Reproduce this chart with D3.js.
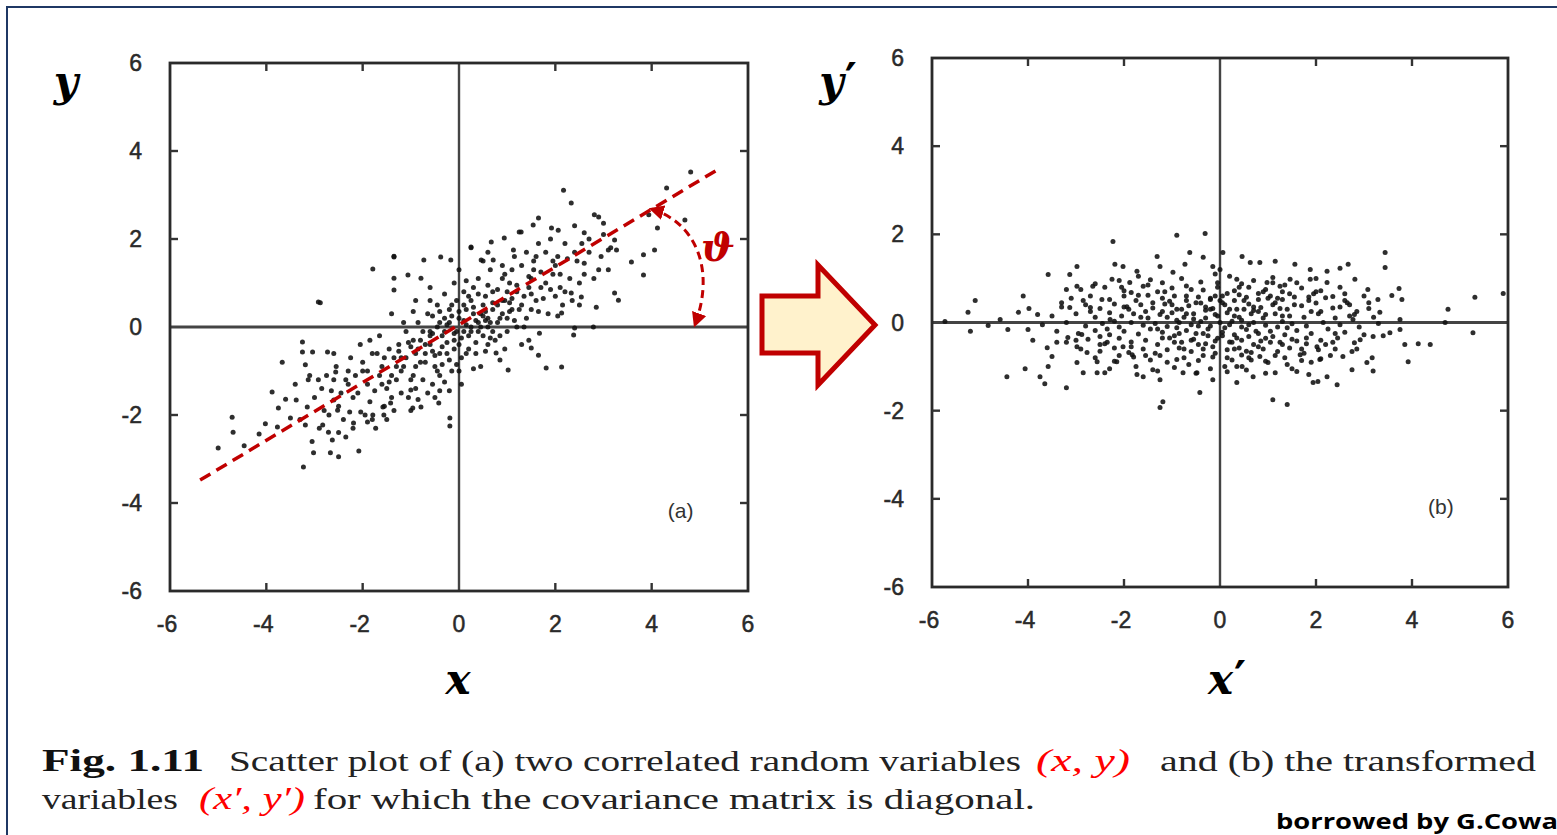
<!DOCTYPE html>
<html lang="en">
<head>
  <meta charset="UTF-8" />
  <title>Fig. 1.11 scatter</title>
  <script src="https://d3js.org/d3.v7.min.js"></script>
  <style>
    body { margin: 0; background: #fff; }
    svg { display: block; }
    .tick-label { font-family: "Liberation Sans", Arial, sans-serif; font-size: 23px; fill: #2a2a2a; stroke: #2a2a2a; stroke-width: 0.5px; }
    .axis-name { font-family: "DejaVu Serif", "Liberation Serif", serif; font-weight: bold; font-style: italic; font-size: 42px; fill: #000; }
    .caption { font-family: "Liberation Serif", serif; font-size: 29px; fill: #222; }
  </style>
</head>
<body>
<svg id="chart" width="1557" height="835"></svg>

<script>
const ticks = [-6, -4, -2, 0, 2, 4, 6];

// (a) correlated variables (x, y)
const pointsA = [
  [-5.0,-2.75],[-4.71,-2.05],[-4.69,-2.39],[-4.46,-2.7],[-4.15,-2.43],[-4.02,-2.2],[-3.88,-1.48],[-3.77,-2.27],
  [-3.75,-1.84],[-3.6,-1.64],[-3.67,-0.8],[-3.5,-2.07],[-3.38,-1.66],[-3.23,-3.18],[-3.25,-0.34],[-3.25,-0.57],
  [-3.19,-0.86],[-3.13,-1.2],[-3.15,-1.82],[-3.19,-2.23],[-3.04,-0.57],[-3.02,-2.86],[-2.92,-1.2],[-2.83,-2.23],
  [-2.73,-0.57],[-2.71,-2.39],[-2.67,-2.86],[-2.63,-2.57],[-2.5,-2.95],[-2.52,-1.89],[-2.6,-1.66],[-2.56,-1.02],
  [-2.35,-1.2],[-2.27,-1.93],[-2.19,-2.18],[-2.08,-2.82],[-2.04,-1.93],[-1.9,-2.16],[-1.79,-2.0],[-1.73,-2.3],
  [-1.58,-1.82],[-1.56,-2.0],[-1.42,-1.73],[-2.92,0.57],[-1.0,-1.43],[-0.96,-1.84],[-0.79,-1.82],[-0.42,-1.73],
  [-0.19,-2.07],[-0.19,-2.25],[4.81,3.52],[4.31,3.16],[2.17,3.11],[2.33,2.82],[2.81,2.55],[3.0,2.36],
  [3.94,2.55],[4.12,2.25],[4.69,2.43],[4.06,1.75],[3.83,1.64],[3.58,1.48],[3.83,1.18],[3.31,0.61],
  [3.23,0.77],[3.27,1.75],[3.23,1.98],[3.1,1.75],[2.6,2.14],[2.9,1.3],[2.85,0.45],[2.54,0.68],
  [2.33,0.77],[2.13,0.32],[2.38,-0.18],[2.4,-0.02],[2.79,0.0],[2.13,-0.91],[1.81,-0.93],[1.67,-0.14],
  [1.65,-0.64],[1.5,-0.48],[1.02,-0.98],[0.77,-0.59],[1.65,2.48],[1.54,2.32],[1.29,2.16],[1.92,2.25],
  [2.06,2.2],[-1.35,1.59],[-0.73,1.52],[-1.35,1.11],[-1.35,0.84],[-1.06,1.18],[-0.79,1.11],[-0.38,1.59],
  [-0.17,1.52],[0.25,1.8],[0.67,1.93],[0.94,2.02],[1.13,1.75],[0.71,1.52],[0.46,1.52],[-2.88,0.55],
  [-1.79,1.32],[-1.35,1.61],[0.25,1.82],[1.25,2.16],
  [-3.0,-1.6],[-2.9,-2.3],[-3.1,-1.1],[-2.8,-1.9],[-3.05,-2.6],[-2.85,-1.4],
  [-2.6,-1.2],[-2.5,-1.8],[-2.4,-2.1],[-2.55,-0.9],[-2.45,-1.5],[-2.35,-2.5],[-2.6,-0.6],[-2.3,-1.0],
  [-2.1,-1.5],[-2.0,-0.8],[-1.95,-2.0],[-2.15,-1.1],[-1.9,-1.3],[-2.05,-0.4],[-1.85,-1.7],[-2.2,-2.3],[-1.8,-0.6],[-2.0,-1.0],
  [-1.6,-0.9],[-1.5,-1.4],[-1.45,-0.5],[-1.55,-1.8],[-1.4,-1.1],[-1.65,-0.2],[-1.35,-0.7],[-1.5,-2.1],[-1.6,-1.3],[-1.4,-1.6],[-1.7,-0.6],[-1.3,-1.2],
  [-1.1,-0.7],[-1.0,-1.2],[-0.95,-0.3],[-1.05,-1.6],[-0.9,-0.9],[-1.15,0.1],[-0.85,-0.5],[-1.0,-1.9],[-1.2,-1.0],[-0.9,-1.4],[-1.1,-0.1],[-0.8,-0.8],[-1.25,-0.4],[-0.95,0.35],
  [-0.6,-0.4],[-0.5,-0.9],[-0.45,0.0],[-0.55,-1.3],[-0.4,-0.6],[-0.65,0.3],[-0.35,-0.2],[-0.5,-1.6],[-0.7,-0.8],[-0.4,-1.1],[-0.6,0.6],[-0.3,0.2],[-0.75,-0.1],[-0.45,0.5],[-0.55,-0.55],[-0.35,-0.85],
  [-0.1,-0.3],[0.0,0.2],[0.05,-0.7],[-0.05,0.6],[0.1,-0.1],[-0.15,-1.0],[0.15,0.4],[0.0,-0.4],[-0.1,1.0],[0.1,0.8],[0.05,-1.3],[-0.2,0.1],[0.2,-0.5],[0.0,1.3],[-0.05,-0.1],[0.15,0.05],[0.25,0.6],[-0.25,-0.6],
  [0.45,0.3],[0.5,-0.2],[0.55,0.7],[0.4,1.1],[0.6,0.0],[0.35,-0.6],[0.5,0.5],[0.65,1.3],[0.45,-0.9],[0.55,0.15],[0.7,0.8],[0.3,0.9],[0.6,-0.4],[0.4,0.1],[0.5,1.5],[0.7,0.4],
  [0.95,0.6],[1.0,0.2],[1.05,1.0],[0.9,1.4],[1.1,0.4],[0.85,-0.2],[1.0,0.8],[1.15,1.6],[0.95,-0.5],[1.2,0.0],[0.9,1.1],[1.05,0.35],
  [1.45,0.9],[1.5,0.4],[1.55,1.3],[1.4,1.7],[1.6,0.6],[1.35,0.0],[1.5,1.1],[1.65,1.9],[1.45,-0.3],[1.7,0.9],[1.55,1.5],
  [1.95,1.2],[2.0,0.7],[2.05,1.6],[1.9,2.0],[2.1,0.9],[1.85,0.3],[2.0,1.4],[2.2,1.9],[2.15,0.5],[1.8,1.0],
  [2.45,1.5],[2.5,1.0],[2.55,1.9],[2.4,2.3],[2.6,1.2],[2.35,0.6],[2.7,1.7],
  [2.95,1.6],[3.0,2.1],[3.1,1.3],[2.9,2.5],[3.15,1.8],
  [-0.3,-0.1],[0.3,0.3],[-0.2,0.4],[0.2,-0.2],[-0.6,-0.2],[0.6,0.2],[0.1,0.5],[-0.1,-0.5],[0.4,-0.1],[-0.4,0.1],
  [0.8,0.5],[-0.8,-0.3],[0.25,0.0],[-0.15,0.25],[0.55,0.35],[0.7,-0.1],[-0.7,-0.6],[0.9,0.3],[-0.9,-0.6],[1.2,0.8],
  [-1.2,-0.7],[1.3,0.5],[-1.3,-0.9],[0.35,0.15],[0.65,-0.25],[-0.25,-0.35],[0.8,0.1],[-0.55,-0.15],[1.1,0.65],[-1.0,-0.45],
  [-2.2,-1.6],[-2.3,-1.3],[-1.9,-1.0],[-1.75,-1.45],[-1.8,-2.1],[-1.65,-1.1],[-1.55,-0.7],[-1.45,-1.25],[-1.35,-1.9],[-1.25,-0.55],
  [-1.2,-1.5],[-1.15,-0.9],[-1.05,-0.35],[-0.95,-1.1],[-0.85,-1.65],[-0.85,0.1],[-0.75,-1.2],[-0.7,-0.4],[-0.65,-1.5],[-0.6,-0.1],
  [-0.55,0.25],[-0.5,-0.65],[-0.45,-1.0],[-0.4,0.35],[-0.35,-0.45],[-0.3,-1.25],[-0.25,0.05],[-0.2,-0.75],[-0.15,0.5],[-0.1,-0.15],
  [-0.05,-0.85],[0.0,0.35],[0.05,-0.25],[0.1,0.15],[0.15,-0.6],[0.2,0.7],[0.25,-0.1],[0.3,0.45],[0.35,-0.35],[0.4,0.75],
  [0.45,0.0],[0.5,0.25],[0.55,-0.55],[0.6,0.95],[0.65,0.1],[0.7,0.55],[0.75,-0.3],[0.8,0.85],[0.85,0.2],[0.9,0.6],
  [0.95,1.2],[1.0,-0.1],[1.05,0.55],[1.1,1.3],[1.15,0.15],[1.2,0.95],[1.25,0.4],[1.3,1.4],[1.35,0.7],[1.4,0.2],
  [1.45,1.15],[1.5,0.75],[1.6,1.6],[1.65,0.35],[1.7,1.25],[1.75,0.65],[1.8,1.7],[1.9,0.85],[1.95,1.5],[2.05,0.25],
  [2.1,1.2],[2.2,0.8],[2.25,1.55],[2.3,1.1],[2.4,1.7],[2.5,0.5],[2.6,1.45],[2.7,2.0],[2.8,1.1],[-2.7,-2.0],
  [-2.75,-1.1],[-2.5,-2.4],[-2.25,-0.7],[-2.65,-1.45],[-3.3,-2.1],[-3.4,-1.3],[-0.2,-1.45],[0.3,-0.95],[0.6,1.7],[-0.6,0.9],
  [-0.9,0.6],[0.85,-0.75],[1.3,-0.4],[-1.4,0.3],[-1.85,-0.3],[-0.3,0.75],[0.0,-1.0],[0.15,1.05],[-0.4,-1.45]
];

// (b) transformed variables (x', y')
const pointsB = [
  [-5.73,0.02],[-5.1,0.5],[-5.25,0.23],[-5.2,-0.2],[-4.83,-0.07],[-4.58,0.07],[-4.42,-0.16],[-4.1,0.6],
  [-4.2,0.23],[-3.98,0.32],[-3.8,0.18],[-4.0,-0.16],[-4.44,-1.23],[-4.06,-1.05],[-3.9,-0.4],[-3.75,-1.23],
  [-3.65,-1.39],[-3.58,1.09],[-3.6,-0.57],[-3.58,-1.0],[-3.5,-0.77],[-3.4,-0.45],[-3.3,0.45],[-3.2,-1.48],
  [-3.2,0.75],[-3.13,1.09],[-2.98,1.27],[-2.98,0.82],[-3.13,0.34],[-3.17,-0.34],[-2.98,-0.55],[-2.98,-0.91],
  [-2.85,-1.14],[-2.88,-0.27],[-2.77,-0.68],[-2.65,0.82],[-2.7,0.34],[-2.56,-0.89],[-2.56,-1.14],[-2.4,-1.14],
  [-2.5,-0.32],[-2.46,0.52],[-2.23,1.84],[-2.19,1.32],[-2.25,0.98],[-2.35,-0.45],[-2.15,-0.89],[-2.29,0.07],
  [-2.02,1.27],[-1.88,0.91],[-1.73,1.16],[-1.94,0.36],[-2.02,-0.55],[-1.83,-0.73],[-1.73,-1.18],[-1.6,-1.23],
  [-1.4,-1.07],[-1.25,-1.3],[-1.25,-1.93],[-1.19,-1.8],[-1.31,1.5],[-1.25,1.27],[-0.9,1.98],[-0.63,1.59],
  [-0.31,2.02],[-0.35,1.48],[-0.15,1.27],[-0.73,1.32],[-0.98,1.14],[-0.42,-1.59],[-0.48,-1.14],[-0.15,-1.3],
  [-0.77,-1.14],[-0.9,-0.84],[0.06,1.59],[0.46,1.5],[0.63,1.36],[0.83,1.36],[1.15,1.39],[1.56,1.32],
  [1.88,1.2],[2.23,1.16],[2.5,1.23],[2.67,1.32],[2.81,0.98],[3.08,0.75],[3.29,0.52],[3.44,1.59],
  [3.44,1.25],[3.58,0.61],[3.73,0.77],[3.79,0.52],[3.75,0.07],[3.75,-0.16],[3.54,-0.23],[3.85,-0.5],
  [4.13,-0.48],[4.38,-0.5],[3.92,-0.89],[4.69,0.0],[4.75,0.3],[5.31,0.57],[5.27,-0.23],[5.9,0.66],
  [3.33,0.23],[3.19,-0.32],[3.17,-0.8],[3.19,-1.1],[2.75,-1.07],[3.06,-0.91],[2.75,-0.66],[2.44,-1.41],
  [2.23,-1.23],[1.94,-1.36],[2.04,-1.34],[1.4,-1.86],[1.1,-1.75],[1.6,-1.11],[1.15,-1.14],[0.69,-1.23],
  [0.35,-1.36],[0.1,-1.0],[0.46,-1.0],[0.83,-0.77],[1.0,-0.91],[1.4,-0.95],[1.67,-0.73],[2.02,-0.55],
  [2.08,-0.84],[2.35,-0.45],[2.56,-0.77],[2.92,-0.39],[2.77,0.07],[2.85,0.25],[2.65,0.45],[2.35,0.59],
  [2.23,0.91],[1.88,0.98],[1.46,0.98],[1.25,0.82],[0.98,0.91],[0.35,0.98],[0.0,1.2],
  [-2.1,0.95],[-1.7,1.05],[-1.2,0.9],[-0.8,1.0],[-0.4,0.92],[0.2,1.05],[0.7,0.95],[1.1,1.02],[1.6,0.9],[2.0,1.0],[-2.6,0.88],[-1.45,0.97],[0.45,0.88],[1.35,0.85],[-0.1,1.1],
  [-2.9,0.75],[-2.4,0.8],[-2.0,0.72],[-1.6,0.82],[-1.3,0.7],[-1.0,0.78],[-0.7,0.83],[-0.35,0.74],[-0.05,0.8],[0.3,0.72],[0.6,0.8],[0.95,0.75],[1.3,0.7],[1.7,0.78],[2.1,0.72],[2.5,0.8],[-1.85,0.68],[0.15,0.66],[0.8,0.66],[1.95,0.65],
  [-3.1,0.55],[-2.7,0.6],[-2.3,0.52],[-2.0,0.6],[-1.75,0.5],[-1.5,0.62],[-1.2,0.55],[-0.95,0.6],[-0.7,0.5],[-0.45,0.58],[-0.2,0.52],[0.05,0.6],[0.3,0.5],[0.55,0.57],[0.8,0.52],[1.05,0.6],[1.3,0.52],[1.55,0.58],[1.85,0.5],[2.2,0.56],[2.6,0.5],[3.0,0.6],[-1.05,0.48],[0.4,0.63],[1.15,0.45],
  [-3.3,0.35],[-2.8,0.4],[-2.5,0.32],[-2.2,0.42],[-1.9,0.3],[-1.65,0.4],[-1.4,0.33],[-1.15,0.42],[-0.9,0.3],[-0.65,0.38],[-0.4,0.44],[-0.15,0.32],[0.1,0.4],[0.35,0.3],[0.6,0.42],[0.85,0.34],[1.1,0.4],[1.4,0.3],[1.7,0.38],[2.0,0.44],[2.35,0.33],[2.7,0.4],[3.1,0.32],[-0.3,0.28],[0.7,0.27],[-1.55,0.25],[1.9,0.25],
  [-3.5,0.15],[-3.0,0.2],[-2.6,0.12],[-2.3,0.22],[-2.05,0.15],[-1.8,0.2],[-1.5,0.1],[-1.25,0.18],[-1.0,0.22],[-0.75,0.12],[-0.55,0.2],[-0.3,0.1],[-0.1,0.18],[0.15,0.22],[0.4,0.12],[0.65,0.2],[0.9,0.1],[1.15,0.2],[1.45,0.15],[1.75,0.12],[2.05,0.2],[2.4,0.1],[2.8,0.18],[3.2,0.12],[-0.9,0.05],[0.25,0.03],[1.3,0.02],[-2.2,0.03],
  [-3.7,-0.05],[-3.2,0.0],[-2.8,-0.08],[-2.45,-0.02],[-2.1,-0.1],[-1.85,0.0],[-1.6,-0.06],[-1.35,-0.02],[-1.1,-0.09],[-0.85,0.0],[-0.6,-0.05],[-0.4,0.02],[-0.2,-0.08],[0.0,0.0],[0.2,-0.05],[0.45,-0.1],[0.7,0.0],[0.95,-0.06],[1.2,-0.1],[1.5,-0.03],[1.8,-0.08],[2.15,0.0],[2.5,-0.05],[2.9,-0.1],[3.3,-0.02],
  [-3.4,-0.2],[-2.95,-0.25],[-2.6,-0.18],[-2.3,-0.28],[-2.0,-0.2],[-1.7,-0.26],[-1.45,-0.15],[-1.2,-0.22],[-0.95,-0.3],[-0.7,-0.18],[-0.5,-0.25],[-0.25,-0.15],[0.05,-0.22],[0.3,-0.28],[0.55,-0.16],[0.8,-0.25],[1.05,-0.2],[1.35,-0.28],[1.6,-0.18],[1.9,-0.25],[2.25,-0.15],[2.6,-0.22],[3.0,-0.28],
  [-3.2,-0.45],[-2.75,-0.38],[-2.4,-0.48],[-2.1,-0.36],[-1.85,-0.44],[-1.55,-0.4],[-1.3,-0.5],[-1.05,-0.35],[-0.8,-0.45],[-0.55,-0.38],[-0.3,-0.48],[-0.05,-0.36],[0.2,-0.44],[0.45,-0.4],[0.7,-0.5],[0.95,-0.36],[1.25,-0.45],[1.5,-0.38],[1.8,-0.48],[2.1,-0.4],[2.45,-0.35],[2.8,-0.46],[-0.15,-0.55],[0.6,-0.32],
  [-2.9,-0.6],[-2.5,-0.65],[-2.2,-0.58],[-1.9,-0.68],[-1.6,-0.6],[-1.35,-0.7],[-1.1,-0.62],[-0.85,-0.58],[-0.6,-0.66],[-0.35,-0.6],[-0.1,-0.7],[0.15,-0.62],[0.4,-0.58],[0.65,-0.68],[0.9,-0.6],[1.2,-0.66],[1.45,-0.58],[1.75,-0.7],[2.05,-0.62],[2.4,-0.6],
  [-2.6,-0.8],[-2.2,-0.88],[-1.8,-0.78],[-1.45,-0.85],[-1.1,-0.9],[-0.75,-0.8],[-0.45,-0.86],[-0.15,-0.78],[0.25,-0.85],[0.6,-0.8],[0.95,-0.88],[1.35,-0.8],[1.7,-0.86],[2.1,-0.82],[-1.25,-0.75],[0.45,-0.74],
  [-2.3,-1.05],[-1.75,-1.0],[-1.3,-1.1],[-0.95,-1.02],[-0.5,-1.15],[-0.2,-1.05],[0.15,-1.12],[0.55,-1.08],[0.95,-1.15],[1.5,-1.05],[1.85,-1.18],
  [-1.4,0.45],[-1.1,0.12],[-0.8,0.3],[-0.55,0.08],[-0.3,0.35],[-0.05,0.15],[0.2,0.3],[0.45,0.05],[0.7,0.35],[0.95,0.18],[1.25,0.32],
  [-1.2,-0.35],[-0.9,-0.12],[-0.6,-0.4],[-0.35,-0.25],[-0.1,-0.42],[0.1,-0.12],[0.35,-0.35],[0.6,-0.05],[0.85,-0.42],[1.1,-0.32],[1.4,-0.12],
  [-0.2,0.55],[0.3,-0.6],[0.05,0.45],[-0.45,-0.08],[0.5,0.5],[-0.7,0.6],[0.8,-0.55],[1.2,0.55],
  [-2.0,0.35],[-1.7,0.62],[-1.3,-0.15],[-1.0,0.4],[-0.75,-0.6],[-0.5,0.45],[-0.25,-0.3],[0.0,0.5],[0.25,-0.45],[0.5,0.3],
  [0.75,-0.2],[1.0,0.55],[1.3,-0.5],[1.55,0.4],[1.8,-0.35],[2.1,0.25],[2.4,-0.25],[2.7,0.15],[-2.35,-0.15],[-2.7,0.25],
  [-1.55,-0.75],[-1.15,0.7],[-0.85,-0.25],[-0.6,0.75],[-0.35,-0.75],[-0.1,0.6],[0.15,-0.8],[0.4,0.8],[0.65,-0.85],[0.9,0.7],
  [1.15,-0.75],[1.45,0.65],[1.7,-0.6],[2.0,0.7],[2.3,-0.75],[2.6,0.65],[-2.5,-0.5],[-2.05,0.8],[-1.85,-0.55],[-1.65,0.12],
  [-1.2,0.25],[-0.95,-0.45],[-0.7,0.2],[-0.45,-0.5],[-0.2,0.3],[0.05,-0.3],[0.3,0.15],[0.55,-0.65],[0.8,0.25],[1.05,-0.45],
  [1.3,0.15],[1.6,-0.42],[1.85,0.58],[2.2,-0.5],[2.5,0.35],[2.85,-0.6],[-3.0,-0.4],[-2.85,0.5],[-0.05,0.9],[0.35,-1.0],
  [-0.65,-0.95],[1.1,0.9],[-1.5,0.85],[1.9,-0.9],[-2.1,-0.75],[3.1,0.45],[3.4,-0.3]
];

// principal axis and angle annotation in panel (a), data units
const axisLine = [[-5.375, -3.48], [5.42, 3.61]];
const thetaArc = [[4.0, 2.68], [4.85, 2.4], [5.35, 1.4], [4.9, 0.05]];

const svg = d3.select("#chart");

svg.append("defs").append("marker")
  .attr("id", "head")
  .attr("viewBox", "0 0 10 10")
  .attr("refX", 8).attr("refY", 5)
  .attr("markerWidth", 5).attr("markerHeight", 5)
  .attr("orient", "auto-start-reverse")
  .append("path").attr("d", "M0,0 L10,5 L0,10 z").attr("fill", "#C00000");

// outer frame of the slide
svg.append("rect")
  .attr("x", 7).attr("y", 7).attr("width", 1600).attr("height", 900)
  .attr("fill", "none").attr("stroke", "#1F3864").attr("stroke-width", 2);

function drawPanel(opt) {
  const x = d3.scaleLinear().domain([-6, 6]).range(opt.xr);
  const y = d3.scaleLinear().domain([-6, 6]).range(opt.yr);
  const g = svg.append("g");

  // zero lines
  g.append("line").attr("x1", x(-6)).attr("x2", x(6)).attr("y1", y(0)).attr("y2", y(0))
    .attr("stroke", "#444").attr("stroke-width", 2.8);
  g.append("line").attr("x1", x(0)).attr("x2", x(0)).attr("y1", y(-6)).attr("y2", y(6))
    .attr("stroke", "#444").attr("stroke-width", 2.4);

  // points
  g.append("g").selectAll("circle").data(opt.points).join("circle")
    .attr("cx", d => x(d[0])).attr("cy", d => y(d[1]))
    .attr("r", 2.5).attr("fill", "#111").attr("opacity", 0.88);

  // frame
  g.append("rect")
    .attr("x", x(-6)).attr("y", y(6))
    .attr("width", x(6) - x(-6)).attr("height", y(-6) - y(6))
    .attr("fill", "none").attr("stroke", "#2a2a2a").attr("stroke-width", 2.8);

  // inner ticks on all four sides
  const inner = ticks.filter(t => t !== 0 && Math.abs(t) !== 6);
  const tl = 8;
  inner.forEach(t => {
    g.append("line").attr("x1", x(t)).attr("x2", x(t)).attr("y1", y(-6)).attr("y2", y(-6) - tl).attr("stroke", "#333").attr("stroke-width", 2.4);
    g.append("line").attr("x1", x(t)).attr("x2", x(t)).attr("y1", y(6)).attr("y2", y(6) + tl).attr("stroke", "#333").attr("stroke-width", 2.4);
    g.append("line").attr("y1", y(t)).attr("y2", y(t)).attr("x1", x(-6)).attr("x2", x(-6) + tl).attr("stroke", "#333").attr("stroke-width", 2.4);
    g.append("line").attr("y1", y(t)).attr("y2", y(t)).attr("x1", x(6)).attr("x2", x(6) - tl).attr("stroke", "#333").attr("stroke-width", 2.4);
  });

  // tick labels
  g.selectAll(".xl").data(ticks).join("text")
    .attr("class", "tick-label").attr("text-anchor", "middle")
    .attr("x", d => x(d) - (d < 0 ? 3 : 0)).attr("y", y(-6) + 41)
    .text(d => d);
  g.selectAll(".yl").data(ticks).join("text")
    .attr("class", "tick-label").attr("text-anchor", "end")
    .attr("x", x(-6) - 28).attr("y", d => y(d) + 8)
    .text(d => d);

  g.append("text")
    .attr("x", x(4.6)).attr("y", y(-4.35))
    .attr("text-anchor", "middle")
    .style("font-family", "'Liberation Sans', Arial, sans-serif").style("font-size", "21px").style("fill", "#333")
    .text(opt.tag);

  return { x, y, g };
}

const pa = drawPanel({ xr: [170, 748], yr: [591, 63], points: pointsA, tag: "(a)" });
const pb = drawPanel({ xr: [932, 1508], yr: [587, 58], points: pointsB, tag: "(b)" });

// axis names
function axisName(x0, y0, main, prime) {
  const t = svg.append("text").attr("class", "axis-name").attr("x", x0).attr("y", y0).attr("text-anchor", "middle");
  t.append("tspan").text(main);
  if (prime) t.append("tspan")
    .style("font-family", "'DejaVu Sans', sans-serif").style("font-style", "normal").style("font-weight", "bold")
    .style("font-size", "46px").attr("dx", 1).text("′");
}
axisName(66, 96, "y", false);
axisName(458, 694, "x", false);
axisName(838, 96, "y", true);
axisName(1227, 694, "x", true);

// principal axis in (a)
pa.g.append("line")
  .attr("x1", pa.x(axisLine[0][0])).attr("y1", pa.y(axisLine[0][1]))
  .attr("x2", pa.x(axisLine[1][0])).attr("y2", pa.y(axisLine[1][1]))
  .attr("stroke", "#C00000").attr("stroke-width", 3.5).attr("stroke-dasharray", "12,7");

const arcPts = thetaArc.map(p => [pa.x(p[0]), pa.y(p[1])]);
pa.g.append("path")
  .attr("d", `M${arcPts[0]} C${arcPts[1]} ${arcPts[2]} ${arcPts[3]}`)
  .attr("fill", "none").attr("stroke", "#C00000").attr("stroke-width", 3)
  .attr("stroke-dasharray", "8,5")
  .attr("marker-start", "url(#head)").attr("marker-end", "url(#head)");

svg.append("text")
  .attr("x", 718).attr("y", 261).attr("text-anchor", "middle")
  .style("font-family", "'DejaVu Serif', serif").style("font-weight", "bold").style("font-style", "italic")
  .style("font-size", "40px").style("fill", "#C00000")
  .text("ϑ");

// block arrow between the panels
svg.append("path")
  .attr("d", "M762,296 L818,296 L818,265 L875,325 L818,385 L818,353 L762,353 Z")
  .attr("fill", "#FFF2CC").attr("stroke", "#C00000").attr("stroke-width", 5).attr("stroke-linejoin", "miter");

// caption
function cap(x0, y0, txt, w, extra) {
  const t = svg.append("text").attr("class", "caption").attr("x", x0).attr("y", y0)
    .attr("textLength", w).attr("lengthAdjust", "spacingAndGlyphs").text(txt);
  if (extra) extra(t);
  return t;
}
cap(42, 771, "Fig. 1.11", 162, t => t.style("font-weight", "bold").style("font-size", "31px").style("fill", "#111"));
cap(229, 771, "Scatter plot of (a) two correlated random variables", 792);
cap(1036, 771, "(x, y)", 94, t => t.style("font-style", "italic").style("fill", "#FF0000").style("font-size", "32px"));
cap(1160, 771, "and (b) the transformed", 376);
cap(42, 809, "variables", 136);
cap(199, 809, "(x′, y′)", 106, t => t.style("font-style", "italic").style("fill", "#FF0000").style("font-size", "32px"));
cap(313, 809, "for which the covariance matrix is diagonal.", 722);

svg.append("text")
  .attr("x", 1276).attr("y", 829)
  .attr("textLength", 300).attr("lengthAdjust", "spacingAndGlyphs")
  .style("font-family", "'Open Sans', 'Liberation Sans', sans-serif").style("font-weight", "bold").style("font-size", "22px").style("fill", "#000")
  .text("borrowed by G.Cowan");
</script>
</body>
</html>
